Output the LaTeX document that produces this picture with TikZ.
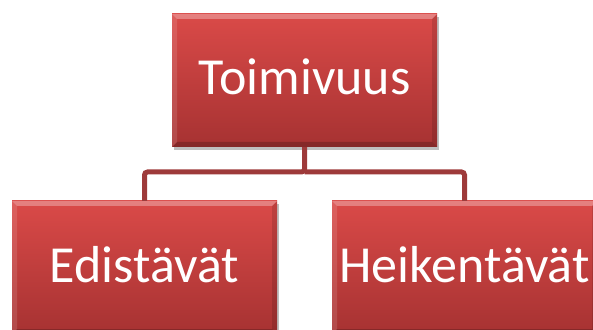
\documentclass[tikz,border=0pt]{standalone}
\usepackage{fontspec}
\setmainfont{Carlito}
\usetikzlibrary{shadows}
\definecolor{boxtop}{HTML}{DA4A48}
\definecolor{boxbot}{HTML}{A63232}
\definecolor{conncol}{HTML}{9E3A3A}
\tikzset{
  orgbox/.style={rectangle, minimum width=265pt, minimum height=133pt, inner sep=0pt,
    top color=boxtop, bottom color=boxbot, text=white,
    font=\fontsize{52}{60}\selectfont, text height=33pt, text depth=4pt,
    drop shadow={shadow xshift=1.5pt, shadow yshift=-3pt, opacity=0.25, fill=black},
    path picture={
      \fill[white,opacity=0.30] (path picture bounding box.north west) -- (path picture bounding box.north east)
        -- ([xshift=-5pt,yshift=-5pt]path picture bounding box.north east) -- ([xshift=5pt,yshift=-5pt]path picture bounding box.north west) -- cycle;
      \fill[white,opacity=0.12] (path picture bounding box.north west) -- ([xshift=5pt,yshift=-5pt]path picture bounding box.north west)
        -- ([xshift=5pt,yshift=5pt]path picture bounding box.south west) -- (path picture bounding box.south west) -- cycle;
      \fill[black,opacity=0.12] (path picture bounding box.north east) -- ([xshift=-5pt,yshift=-5pt]path picture bounding box.north east)
        -- ([xshift=-5pt,yshift=5pt]path picture bounding box.south east) -- (path picture bounding box.south east) -- cycle;
      \fill[black,opacity=0.20] (path picture bounding box.south west) -- (path picture bounding box.south east)
        -- ([xshift=-5pt,yshift=5pt]path picture bounding box.south east) -- ([xshift=5pt,yshift=5pt]path picture bounding box.south west) -- cycle;
    }},
  conn/.style={draw=conncol, line width=5pt, rounded corners=3pt}
}
\begin{document}
\begin{tikzpicture}[x=1pt,y=1pt]
\useasboundingbox (0,0) rectangle (593,329);
\clip (0,0) rectangle (593,329);
\node[orgbox] (top) at (304.5,248.5) {Toimivuus};
\node[orgbox] (left) at (144.5,61.5) {Edistävät};
\node[orgbox] (right) at (464.5,61.5) {Heikentävät};
\coordinate (mid) at (304.5,157);
\draw[conn] (top.south) -- (mid) -| (left.north);
\draw[conn] (mid) -| (right.north);
\end{tikzpicture}
\end{document}
